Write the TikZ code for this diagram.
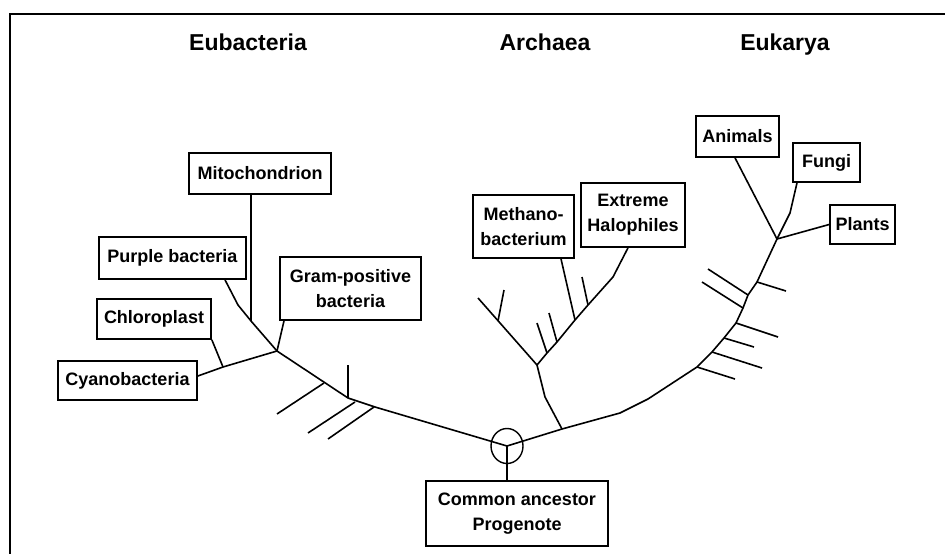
\documentclass[tikz,border=0pt]{standalone}
\usepackage{fontspec}
\setmainfont{Liberation Sans}
\usetikzlibrary{positioning}

\begin{document}
\begin{tikzpicture}[x=1pt, y=-1pt,
  box/.style={draw, line width=1.7pt, align=center, inner sep=0pt,
    font=\bfseries\fontsize{18}{25}\selectfont},
  kingdom/.style={anchor=base, font=\bfseries\fontsize{23}{26}\selectfont},
  branch/.style={line width=1.6pt, line join=round}]
\useasboundingbox (0,0) rectangle (945,554);
\draw[line width=1.6pt] (945,14) -- (10,14) -- (10,554);
\node[kingdom] (eubt) at (248,50) {Eubacteria};
\node[kingdom] (arct) at (545,50) {Archaea};
\node[kingdom] (eukt) at (785,50) {Eukarya};
\node[box, minimum width=142, minimum height=41] (mito) at (260,173.5) {Mitochondrion};
\node[box, minimum width=147, minimum height=42] (purple) at (172.5,258) {Purple bacteria};
\node[box, minimum width=141, minimum height=63] (gram) at (350.5,288.5) {Gram-positive\\bacteria};
\node[box, minimum width=114, minimum height=40] (chloro) at (154,319) {Chloroplast};
\node[box, minimum width=139, minimum height=39] (cyano) at (127.5,380.5) {Cyanobacteria};
\node[box, minimum width=182, minimum height=65] (anc) at (517,513.5) {Common ancestor\\Progenote};
\node[box, minimum width=101, minimum height=63] (meth) at (523.5,226.5) {Methano-\\bacterium};
\node[box, minimum width=104, minimum height=64] (halo) at (633,215) {Extreme\\Halophiles};
\node[box, minimum width=83, minimum height=41] (animals) at (737.5,136.5) {Animals};
\node[box, minimum width=67, minimum height=39] (fungi) at (826.5,162.5) {Fungi};
\node[box, minimum width=65, minimum height=39] (plants) at (862.5,224.5) {Plants};
\coordinate (root) at (507,446);
\coordinate (l1) at (375,407);
\coordinate (l2) at (348,398);
\coordinate (eub) at (277,351);
\coordinate (cy1) at (223,367);
\coordinate (mt1) at (251,321);
\coordinate (pu1) at (238,305);
\coordinate (ar0) at (562,429);
\coordinate (ar1) at (545,397);
\coordinate (arc) at (537,365);
\coordinate (a1) at (547,353);
\coordinate (a2) at (557,342);
\coordinate (a3) at (575,320);
\coordinate (a4) at (588,305);
\coordinate (a5) at (613,277);
\coordinate (e1) at (620,413);
\coordinate (e2) at (648,399);
\coordinate (e3) at (697,367);
\coordinate (e4) at (712,352);
\coordinate (e5) at (724,338);
\coordinate (e6) at (736,323);
\coordinate (e7) at (743,308);
\coordinate (e8) at (748,295);
\coordinate (e9) at (757,282);
\coordinate (euk) at (777,239);
\coordinate (fu1) at (790,213);
\draw[line width=1.4pt] (root) ellipse (16 and 17.5);
\draw[branch] (root) -- ([xshift=-10pt]anc.north);
\draw[branch] (root) -- (l1) -- (l2) -- (eub);
\draw[branch] (l2) -- ++(0,-33);
\draw[branch] (324,383) -- ++(-47,31);
\draw[branch] (355,402) -- ++(-47,31);
\draw[branch] (374,407) -- ++(-46,32);
\draw[branch] (eub) -- (cy1) -- ([yshift=4.5pt]cyano.east);
\draw[branch] (cy1) -- (chloro.south east);
\draw[branch] (eub) -- (mt1) -- (pu1) -- ([xshift=52.5pt]purple.south);
\draw[branch] (mt1) -- ([xshift=-9pt]mito.south);
\draw[branch] (eub) -- ([xshift=-66.5pt]gram.south);
\draw[branch] (root) -- (ar0) -- (e1) -- (e2) -- (e3) -- (e4) -- (e5) -- (e6)
  -- (e7) -- (e8) -- (e9) -- (euk);
\draw[branch] (e3) -- (735,379);
\draw[branch] (e4) -- (762,368);
\draw[branch] (e5) -- (754,347);
\draw[branch] (e6) -- (778,337);
\draw[branch] (e9) -- (786,291);
\draw[branch] (e7) -- (702,282);
\draw[branch] (e8) -- (708,269);
\draw[branch] (euk) -- ([xshift=-2.5pt]animals.south);
\draw[branch] (euk) -- (fu1) -- ([xshift=-29.5pt]fungi.south);
\draw[branch] (euk) -- (plants.west);
\draw[branch] (ar0) -- (ar1) -- (arc);
\draw[branch] (arc) -- (478,298);
\draw[branch] (498,321) -- (504,290);
\draw[branch] (arc) -- (a1) -- (a2) -- (a3) -- (a4) -- (a5) -- ([xshift=-5pt]halo.south);
\draw[branch] (a1) -- (537,323);
\draw[branch] (a2) -- (549,313);
\draw[branch] (a4) -- (582,277);
\draw[branch] (a3) -- ([xshift=37.5pt]meth.south);
\end{tikzpicture}
\end{document}
